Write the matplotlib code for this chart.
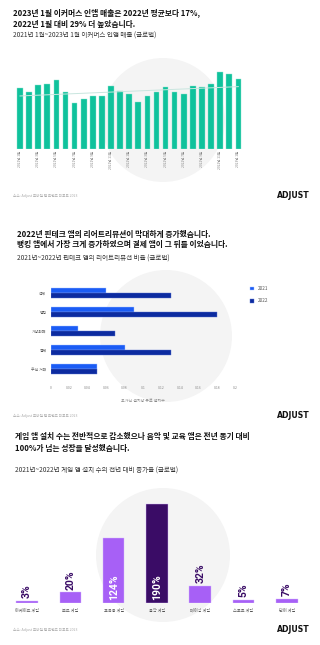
import numpy as np
import matplotlib
matplotlib.use('Agg')
from matplotlib import pyplot as plt
from matplotlib.patches import Circle

plt.rcParams['font.family'] = ['Noto Sans CJK KR', 'DejaVu Sans']

W, H = 320, 645

# chart 1 - ecommerce in-app revenue (relative index)
ecom_rev = [185, 171, 193, 196, 207, 172, 140, 150, 160, 160, 189, 176, 165,
            142, 160, 171, 186, 171, 167, 189, 187, 196, 233, 226, 212]
ecom_trend = [160, 188]
ecom_ticks = ['2021년 1월', '2021년 3월', '2021년 5월', '2021년 7월', '2021년 9월',
              '2021년 11월', '2022년 1월', '2022년 3월', '2022년 5월', '2022년 7월',
              '2022년 9월', '2022년 11월', '2023년 1월']

# chart 2 - fintech reattribution
fin_cats = ['전체', '뱅킹', '가상화폐', '결제', '주식 거래']
fin_2021 = [0.06, 0.09, 0.03, 0.08, 0.05]
fin_2022 = [0.13, 0.18, 0.07, 0.13, 0.05]
fin_xticks = [0, 0.02, 0.04, 0.06, 0.08, 0.1, 0.12, 0.14, 0.16, 0.18, 0.2]

# chart 3 - game installs yoy growth
game_cats = ['아케이드 게임', '보드 게임', '교육용 게임', '음악 게임', '레이싱 게임',
             '스포츠 게임', '단어 게임']
game_growth = [3, 20, 124, 190, 32, 5, 7]

TEAL = '#0fc29c'
BLUE1 = '#1b5cf5'
BLUE2 = '#0c2ba0'
PURPLE = '#a760f6'
DPURPLE = '#3a0c66'
GRAY = '#8a8a8a'

fig = plt.figure(figsize=(W / 100, H / 100), dpi=100)

def add_ax(x0, y0, x1, y1):
    a = fig.add_axes([x0 / W, 1 - y1 / H, (x1 - x0) / W, (y1 - y0) / H])
    a.set_facecolor('none')
    return a

# background layer in pixel coordinates
bg = fig.add_axes([0, 0, 1, 1])
bg.set_xlim(0, W)
bg.set_ylim(H, 0)
bg.axis('off')
for cx, cy, r in [(163, 120, 62), (166, 336, 66), (163, 555, 67)]:
    bg.add_patch(Circle((cx, cy), r, color='#f4f4f4', lw=0))

def header(x, y1, lines, sub, y_sub):
    for k, ln in enumerate(lines):
        bg.text(x, y1 + k * 11, ln, fontsize=5.6, fontweight='bold', color='#111111',
                va='center', ha='left')
    bg.text(x, y_sub, sub, fontsize=4.7, color='#333333', va='center', ha='left')

def footer(y):
    bg.text(13, y, '소스: Adjust 모바일 앱 트렌드 리포트 2023', fontsize=2.6, color='#aaaaaa',
            va='center', ha='left')
    bg.text(310, y, 'ADJUST', fontsize=5.6, fontweight='bold', color='#111111',
            va='center', ha='right', family='DejaVu Sans')

header(13, 13, ['2023년 1월 이커머스 인앱 매출은 2022년 평균보다 17%,',
                '2022년 1월 대비 29% 더 높았습니다.'],
       '2021년 1월~2023년 1월 이커머스 인앱 매출 (글로벌)', 36)
footer(196)

header(17, 234, ['2022년 핀테크 앱의 리어트리뷰션이 막대하게 증가했습니다.',
                 '뱅킹 앱에서 가장 크게 증가하였으며 결제 앱이 그 뒤를 이었습니다.'],
       '2021년~2022년 핀테크 앱의 리어트리뷰션 비율 (글로벌)', 258.5)
footer(416)

header(15, 437, ['게임 앱 설치 수는 전반적으로 감소했으나 음악 및 교육 앱은 전년 동기 대비',
                 '100%가 넘는 성장을 달성했습니다.'],
       '2021년~2022년 게임 앱 설치 수의 전년 대비 증가율 (글로벌)', 471)
footer(630)

# ---- chart 1
ax1 = add_ax(15.45, 49.3, 242.9, 149.3)
x = np.arange(len(ecom_rev))
ax1.bar(x, ecom_rev, width=0.62, color=TEAL, edgecolor='#8fe3cf', linewidth=0.3)
ax1.plot([x[0], x[-1]], ecom_trend, color='#c9e6df', lw=0.7, zorder=3)
ax1.set_xlim(-0.5, len(ecom_rev) - 0.5)
ax1.set_ylim(0, 300)
ax1.set_xticks(x[::2])
ax1.set_xticklabels(ecom_ticks, rotation=90, fontsize=2.4, color=GRAY)
ax1.tick_params(axis='x', length=0, pad=1.5)
ax1.set_yticks([])
for s in ax1.spines.values():
    s.set_visible(False)

# ---- chart 2
ax2 = add_ax(50.7, 279.7, 235.3, 382.3)
y = np.arange(len(fin_cats))
h1 = ax2.barh(y - 0.13, fin_2021, height=0.26, color=BLUE1, edgecolor='#a8c2ff',
              linewidth=0.3, label='2021')
h2 = ax2.barh(y + 0.13, fin_2022, height=0.26, color=BLUE2, edgecolor='#5a74d0',
              linewidth=0.3, label='2022')
ax2.set_xlim(0, 0.2)
ax2.set_ylim(4.7, -0.7)
ax2.set_yticks(y)
ax2.set_yticklabels(fin_cats, fontsize=2.8, color='#555555')
ax2.set_xticks(fin_xticks)
ax2.set_xticklabels([f'{v:g}' for v in fin_xticks], fontsize=2.5, color=GRAY)
ax2.tick_params(length=0, pad=3)
ax2.set_xlabel('오가닉 설치당 유료 설치수', fontsize=2.9, color=GRAY, labelpad=6)
for s in ax2.spines.values():
    s.set_visible(False)
fig.legend(handles=[h1, h2], loc='upper left', bbox_to_anchor=(246 / W, 1 - 282 / H),
           frameon=False, fontsize=3.3, handlelength=0.9, handleheight=0.9,
           labelspacing=1.6, handletextpad=0.8, labelcolor='#555555')

# ---- chart 3
ax3 = add_ax(5.4, 502.7, 308.5, 602.7)
xg = np.arange(len(game_cats))
cols = [DPURPLE if v == max(game_growth) else PURPLE for v in game_growth]
ax3.bar(xg, game_growth, width=0.5, color=cols, edgecolor='#d5b8ff', linewidth=0.3)
ax3.set_xlim(-0.5, len(game_cats) - 0.5)
ax3.set_ylim(0, 192)
ax3.set_xticks(xg)
ax3.set_xticklabels(game_cats, fontsize=3, color='#555555')
ax3.tick_params(length=0, pad=4)
ax3.set_yticks([])
for s in ax3.spines.values():
    s.set_visible(False)
for i, v in enumerate(game_growth):
    inside = v > 100
    ax3.annotate(f'{v}%', (i, 0 if inside else v), xytext=(0, 2), textcoords='offset points',
                 rotation=90, ha='center', va='bottom',
                 color='white' if inside else DPURPLE,
                 fontsize=7.5, fontweight='bold', family='Roboto')

fig.savefig('out.png', dpi=100)
